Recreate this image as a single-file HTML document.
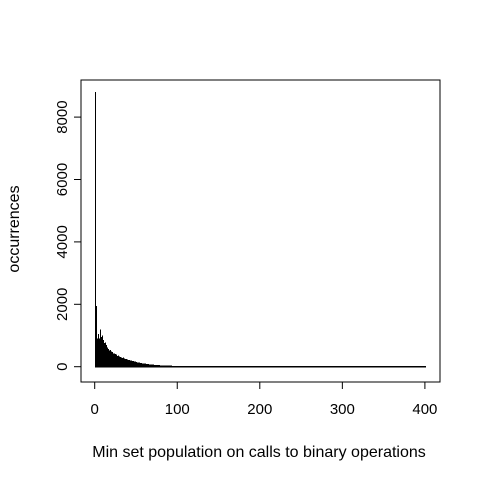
<!DOCTYPE html>
<html><head><meta charset="utf-8"><style>
body{margin:0;background:#fff;}
svg{display:block;font-family:"Liberation Sans",Arial,sans-serif;}
</style></head><body>
<svg id="chart" width="480" height="480" viewBox="0 0 480 480">
<rect x="0" y="0" width="480" height="480" fill="#fff"/>
<rect x="81" y="80" width="359" height="302" fill="none" stroke="#000" stroke-width="1"/>
<g id="bars" shape-rendering="crispEdges"></g>
<g id="xaxis"></g>
<g id="yaxis"></g>
<text x="259" y="457" font-size="16" text-anchor="middle">Min set population on calls to binary operations</text>
<text x="19" y="229" font-size="16" text-anchor="middle" transform="rotate(-90 19 229)">occurrences</text>
</svg>
<script>
const head = [8800,1950,900,930,1050,900,1200,950,1000,880,850,760,780,700,620,600,560,520,540,480,470,450,430,420,400,390,370,350,360,330,310,300,290,280,290,260,250,240,250,230,220,215,200,205,190,180,175,170,160,150,145,140,135,130,125,120,115,110,105,100];
const mid = [95,92,88,85,80,78,75,72,70,68,65,62,60,58,56,54,52,50,48,46,45,44,42,40,39,38,37,36,35,34,33,32,31,30,29,28,28,27,26,25,24,24,23,22,22,21,20,20,19,19,18,18,17,17,16,16,15,15,15,14,14,14,13,13,13,12,12,12,11,11,11,11,10,10,10,10,10,9,9,9,9,9,8,8,8,8,8,8,7,7];
const tail = [7,7,7,7,6,6,6,6,6,6,5,5,5,5,5,5,5,4,4,4,4,4,4,4,4,3,3,3,3,3,3,3,3,3,3,3,3,3,2,2,2,2,2,2,2,2,2,2,2,2,2,2,2,2,2,2,2,2,2,2,2,2,2,2,2,2,2,2,2,2,2,2,2,2,2,2,2,2,2,2,1,1,1,1,1,1,1,1,1,1,1,1,1,1,1,1,1,1,1,1,1,1,1,1,1,1,1,1,1,1,1,1,1,1,1,1,1,1,1,1,1,1,1,1,1,1,1,1,1,1,1,1,1,1,1,1,1,1,1,1,1,1,1,1,1,1,1,1,1,1,1,1,1,1,1,1,1,1,1,1,1,1,1,1,1,1,1,1,1,1,1,1,1,1,1,1,1,1,1,1,1,1,1,1,1,1,1,1,1,1,1,1,1,1,1,1,1,1,1,1,1,1,1,1,1,1,1,1,1,1,1,1,1,1,1,1,1,1,1,1,1,1,1,1,1,1,1,1,1,1,1,1,1,1,1,1,1,1,1,1,1,1,1,1,1,1,1,1,1,1,1];
const counts = head.concat(mid, tail);
const xTicks = [0,100,200,300,400];
const yTicks = [0,2000,4000,6000,8000];
const NS = "http://www.w3.org/2000/svg";
function xs(v){ return 94.7 + v * 0.8255; }
function ys(v){ return 366.7 - v * 0.0312; }
const bars = document.getElementById('bars');
counts.forEach((c, i) => {
  const x = Math.floor(xs(i + 1)) + 0.5;
  const y2 = Math.min(ys(c), 366);
  const l = document.createElementNS(NS, 'line');
  l.setAttribute('x1', x); l.setAttribute('x2', x);
  l.setAttribute('y1', 367.5); l.setAttribute('y2', y2);
  l.setAttribute('stroke', '#000'); l.setAttribute('stroke-width', '1');
  
  
  bars.appendChild(l);
});
const xa = document.getElementById('xaxis');
const xl = document.createElementNS(NS, 'line');
xl.setAttribute('x1', xs(0)); xl.setAttribute('x2', xs(400));
xl.setAttribute('y1', 382); xl.setAttribute('y2', 382);
xl.setAttribute('stroke', '#000');


xa.appendChild(xl);
xTicks.forEach(t => {
  const tk = document.createElementNS(NS, 'line');
  tk.setAttribute('x1', xs(t)); tk.setAttribute('x2', xs(t));
  tk.setAttribute('y1', 382); tk.setAttribute('y2', 389);
  tk.setAttribute('stroke', '#000');
  
  
  xa.appendChild(tk);
  const tx = document.createElementNS(NS, 'text');
  tx.setAttribute('x', xs(t)); tx.setAttribute('y', 414);
  tx.setAttribute('font-size', '15'); tx.setAttribute('text-anchor', 'middle');
  tx.textContent = t;
  
  
  xa.appendChild(tx);
});
const ya = document.getElementById('yaxis');
const yl = document.createElementNS(NS, 'line');
yl.setAttribute('x1', 81); yl.setAttribute('x2', 81);
yl.setAttribute('y1', ys(0)); yl.setAttribute('y2', ys(8000));
yl.setAttribute('stroke', '#000');


ya.appendChild(yl);
yTicks.forEach(t => {
  const tk = document.createElementNS(NS, 'line');
  tk.setAttribute('x1', 74); tk.setAttribute('x2', 81);
  tk.setAttribute('y1', ys(t)); tk.setAttribute('y2', ys(t));
  tk.setAttribute('stroke', '#000');
  
  
  ya.appendChild(tk);
  const tx = document.createElementNS(NS, 'text');
  const y = ys(t);
  tx.setAttribute('x', 67); tx.setAttribute('y', y);
  tx.setAttribute('font-size', '15'); tx.setAttribute('text-anchor', 'middle');
  tx.setAttribute('transform', 'rotate(-90 67 ' + y + ')');
  tx.textContent = t;
  
  
  ya.appendChild(tx);
});
</script>
</body></html>
